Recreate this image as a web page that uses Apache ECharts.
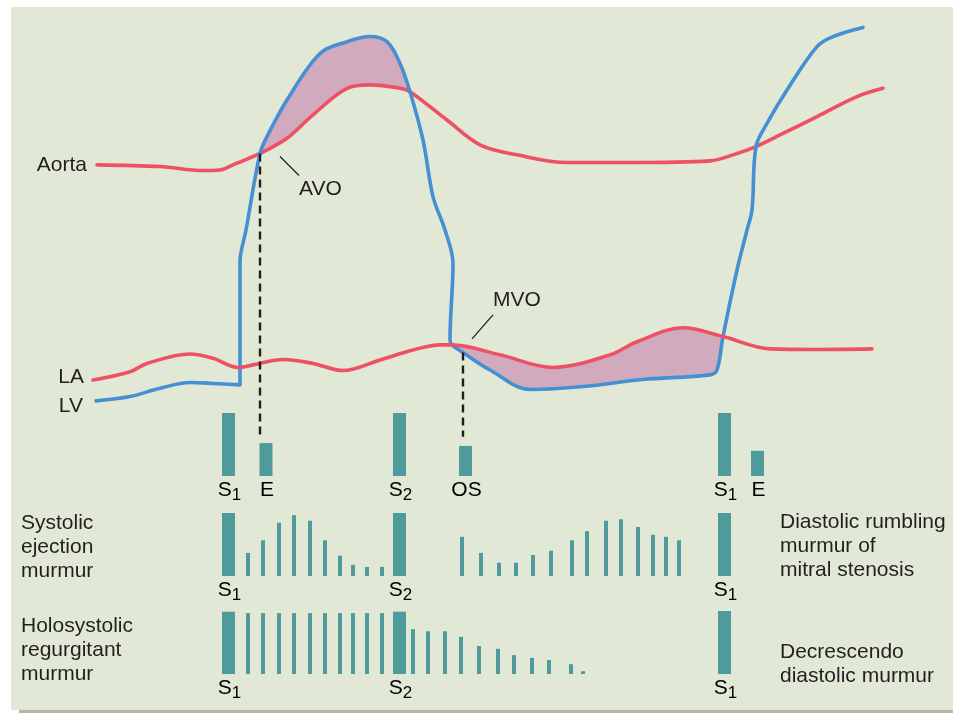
<!DOCTYPE html>
<html><head><meta charset="utf-8">
<script src="https://cdn.jsdelivr.net/npm/echarts@6/dist/echarts.min.js"></script>
<style>html,body{margin:0;padding:0;background:#fff}#c{width:953px;height:713px}</style>
</head><body><div id="c"></div>
<script>
// ---- Pressure curves: [time (ms), pressure (mmHg)] ----
const aortaPressure = [
  [12,89.3],[75,88.7],[118,87.3],[135,87.5],[148,89.3],[175,93.3],[202,98.6],[228,106.8],
  [262,116.1],[285,117.3],[315,116.1],[325,114.9],[362,105],[395,96.3],[432,92.8],[482,90.1],
  [548,90.1],[625,90.7],[648,92.8],[671,95.7],[698,100.3],[732,106.2],[772,113.2],[798,116.1]
];
const lvPressure = [
  [11,6.7],[45,8.2],[75,11.1],[105,13.1],[128,12.8],[155,12.3],[155,55.3],[161,66.5],
  [175,93.3],[182,99.2],[202,112],[235,128.3],[262,132.4],[285,134.2],[302,132.4],[315,124.8],
  [325,114.9],[338,98],[348,78.2],[360,66.5],[368,54.8],[365,28],[367,26.3],[378,23.6],
  [405,17.5],[445,10.7],[498,11.7],[558,14.2],[625,15.8],[632,17.5],[638,29.2],[652,52.5],
  [662,66.5],[667,73.5],[671,95.7],[682,103.8],[702,115.5],[732,130.7],[748,134.2],[778,137.4]
];
const laPressure = [
  [8,14],[45,16.9],[62,19.8],[105,23.1],[128,21.6],[153,18.4],[168,19.3],[198,21.2],
  [228,19.8],[258,17.3],[295,21],[328,24.5],[355,26.3],[367,26.3],[415,22.8],[468,18.4],
  [525,22.8],[552,27.4],[598,32.3],[638,29.2],[685,24.9],[732,24.7],[787,24.9]
];
// valve events [time, pressure]
const avoPoint = [175, 93.3];
const mvoPoint = [367, 26.3];
const mvoDashTime = 378;
const dashEndAmp = 56;

// ---- Heart sounds row ----
const heartSoundLabels = ['S1','E','S2','OS','S1','E'];
const heartSoundTimes  = [143.5,181,314.5,380.5,639.5,672.5];
const heartSoundAmps   = [90,47,90,43,90,36];

// ---- Systolic ejection / diastolic rumble row ----
const row2SoundLabels = ['S1','S2','S1'];
const row2SoundTimes  = [143.5,314.5,639.5];
const row2SoundAmps   = [90,90,90];
const ejectionTimes = [163,178,194,209,225,240,255,268,282,297];
const ejectionAmps  = [33,51,76,87,79,51,29,16,13,13];
const rumbleTimes = [377,396,414,431,448,466,487,502,521,536,553,568,581,594];
const rumbleAmps  = [56,33,19,19,30,36,51,64,79,81,70,59,56,51];

// ---- Holosystolic / decrescendo row ----
const row3SoundLabels = ['S1','S2','S1'];
const row3SoundTimes  = [143.5,314.5,639.5];
const row3SoundAmps   = [89,89,90];
const holoTimes = [163,178,194,209,225,240,255,268,282,297];
const holoAmps  = [87,87,87,87,87,87,87,87,87,87];
const decresTimes = [328,343,360,376,394,413,429,447,464,486,498];
const decresAmps  = [64,61,61,53,40,36,27,23,20,14,4];

const RED = '#EE5164', BLUE = '#4590D2', FILL = '#D2AABD', TEAL = '#4F9A9A', INK = '#231F20';
const FONT = '"Liberation Sans", Arial, Helvetica, sans-serif';
const SMOOTH = 0.35;

const zip = (a, b) => a.map((v, i) => [v, b[i]]);

function fmtLabel(s) {
  return s.length > 1 && /\d/.test(s[1]) ? '{m|' + s[0] + '}{sub|' + s.slice(1) + '}' : '{m|' + s + '}';
}
const richStyle = {
  m: { fontSize: 21, fontFamily: FONT, color: INK, lineHeight: 21 },
  sub: { fontSize: 17, fontFamily: FONT, color: INK, lineHeight: 12, padding: [9, 0, 0, 0] }
};

function barRenderer(width, labels) {
  return function (params, api) {
    const t = api.value(0), a = api.value(1);
    const top = api.coord([t, a]);
    const base = api.coord([t, 0]);
    const children = [{
      type: 'rect',
      shape: { x: top[0] - width / 2, y: top[1], width: width, height: base[1] - top[1] },
      style: { fill: TEAL }
    }];
    if (labels) {
      children.push({
        type: 'text', x: base[0] + 1, y: base[1] + 4,
        style: { text: fmtLabel(labels[params.dataIndex]), rich: richStyle, align: 'center', verticalAlign: 'top', fontFamily: FONT }
      });
    }
    return { type: 'group', children: children };
  };
}

function barSeries(idx, times, amps, width, labels) {
  return {
    type: 'custom', coordinateSystem: 'cartesian2d', xAxisIndex: idx, yAxisIndex: idx,
    data: zip(times, amps), renderItem: barRenderer(width, labels), clip: false, silent: true,
    encode: { x: 0, y: 1 }
  };
}

// fill polygons
function between(upper, lower, t0, t1, upperStart, lowerStart) {
  const u = [], l = [];
  for (let i = upperStart; i < upper.length; i++) { const p = upper[i]; if (p[0] > t1) break; if (p[0] >= t0) u.push(p); }
  for (let i = lowerStart; i < lower.length; i++) { const p = lower[i]; if (p[0] > t1) break; if (p[0] >= t0) l.push(p); }
  return u.concat(l.reverse());
}
const lvMvoIdx = lvPressure.findIndex(p => p[0] === 367);
const laMvoIdx = laPressure.findIndex(p => p[0] === 367);
const lvAvoIdx = lvPressure.findIndex(p => p[0] === 175);
const aoAvoIdx = aortaPressure.findIndex(p => p[0] === 175);
const systolicGap = between(lvPressure, aortaPressure, 175, 325, lvAvoIdx, aoAvoIdx);
const diastolicGap = between(laPressure, lvPressure, 367, 638, laMvoIdx, lvMvoIdx);

function polySeries(pts) {
  return {
    type: 'custom', coordinateSystem: 'cartesian2d', xAxisIndex: 0, yAxisIndex: 0,
    data: [[0, 0]], clip: false, silent: true, z: 1,
    renderItem: function (params, api) {
      return { type: 'polygon', shape: { points: pts.map(p => api.coord(p)), smooth: SMOOTH }, style: { fill: FILL } };
    }
  };
}

const gridsPx = [
  { top: 20, height: 400 },
  { top: 406, height: 70 },
  { top: 506, height: 70 },
  { top: 604, height: 70 }
];
const yMax = [140, 100, 100, 100];

const chart = echarts.init(document.getElementById('c'), null, { renderer: 'canvas' });

const lineStyle = (c) => ({ color: c, width: 3.6, cap: 'round', join: 'round' });

chart.setOption({
  backgroundColor: '#ffffff',
  animation: false,
  grid: gridsPx.map(g => ({ left: 85, width: 800, top: g.top, height: g.height })),
  xAxis: gridsPx.map((g, i) => ({ type: 'value', gridIndex: i, min: 0, max: 800, show: false })),
  yAxis: gridsPx.map((g, i) => ({ type: 'value', gridIndex: i, min: 0, max: yMax[i], show: false })),
  series: [
    polySeries(systolicGap),
    polySeries(diastolicGap),
    { type: 'line', name: 'LV', xAxisIndex: 0, yAxisIndex: 0, data: lvPressure, showSymbol: false, smooth: SMOOTH, lineStyle: lineStyle(BLUE), z: 3, silent: true },
    { type: 'line', name: 'Aorta', xAxisIndex: 0, yAxisIndex: 0, data: aortaPressure, showSymbol: false, smooth: SMOOTH, lineStyle: lineStyle(RED), z: 2, silent: true },
    { type: 'line', name: 'LA', xAxisIndex: 0, yAxisIndex: 0, data: laPressure, showSymbol: false, smooth: SMOOTH, lineStyle: lineStyle(RED), z: 4, silent: true },
    barSeries(1, heartSoundTimes, heartSoundAmps, 13, heartSoundLabels),
    barSeries(2, row2SoundTimes, row2SoundAmps, 13, row2SoundLabels),
    barSeries(2, ejectionTimes, ejectionAmps, 4),
    barSeries(2, rumbleTimes, rumbleAmps, 4),
    barSeries(3, row3SoundTimes, row3SoundAmps, 13, row3SoundLabels),
    barSeries(3, holoTimes, holoAmps, 4),
    barSeries(3, decresTimes, decresAmps, 4)
  ]
});

// ---- annotations ----
const px0 = (p) => chart.convertToPixel({ xAxisIndex: 0, yAxisIndex: 0 }, p);
const px1 = (p) => chart.convertToPixel({ xAxisIndex: 1, yAxisIndex: 1 }, p);
const lvAt = (t) => { for (let i = lvMvoIdx; i < lvPressure.length - 1; i++) { const a = lvPressure[i], b = lvPressure[i + 1]; if (t >= a[0] && t <= b[0]) return a[1] + (b[1] - a[1]) * (t - a[0]) / (b[0] - a[0]); } return 0; };

const avo = px0(avoPoint), mvo = px0(mvoPoint);
const avoEnd = px1([avoPoint[0], dashEndAmp]);
const mvoStart = px0([mvoDashTime, lvAt(mvoDashTime)]);
const mvoEnd = px1([mvoDashTime, dashEndAmp]);
const aoStart = px0(aortaPressure[0]), laStart = px0(laPressure[0]), lvStart = px0(lvPressure[0]);

const txt = (x, y, text, align) => ({
  type: 'text', x: x, y: y, z: 20,
  style: { text: text, fill: INK, font: '21px ' + FONT, align: align || 'left', verticalAlign: 'middle', lineHeight: 24 }
});
const multi = (x, yTop, text) => ({
  type: 'text', x: x, y: yTop, z: 20,
  style: { text: text, fill: INK, font: '21px ' + FONT, align: 'left', verticalAlign: 'top', lineHeight: 24 }
});
const seg = (x1, y1, x2, y2, dash) => ({
  type: 'line', z: 15, shape: { x1: x1, y1: y1, x2: x2, y2: y2 },
  style: dash ? { stroke: '#1E1E1E', lineWidth: 2.4, lineDash: [8, 5] } : { stroke: INK, lineWidth: 1.3 }
});

chart.setOption({
  graphic: [
    { type: 'rect', z: -100, shape: { x: 19, y: 708, width: 940, height: 5 }, style: { fill: '#B3B8AC' } },
    { type: 'rect', z: -99, shape: { x: 11, y: 7, width: 950, height: 703 }, style: { fill: '#E1E8D5' } },
    seg(avo[0], avo[1], avoEnd[0], avoEnd[1], true),
    seg(mvoStart[0], mvoStart[1], mvoEnd[0], mvoEnd[1], true),
    seg(avo[0] + 20, avo[1] + 3, avo[0] + 39, avo[1] + 22),
    seg(mvo[0] + 41, mvo[1] - 30, mvo[0] + 20, mvo[1] - 6),
    txt(avo[0] + 39, avo[1] + 36, 'AVO'),
    txt(mvo[0] + 41, mvo[1] - 44.5, 'MVO'),
    txt(aoStart[0] - 10, aoStart[1] + 0.5, 'Aorta', 'right'),
    txt(laStart[0] - 9, laStart[1] - 2.5, 'LA', 'right'),
    txt(lvStart[0] - 13, lvStart[1] + 5, 'LV', 'right'),
    multi(21, 511, 'Systolic\nejection\nmurmur'),
    multi(21, 614, 'Holosystolic\nregurgitant\nmurmur'),
    multi(780, 510.5, 'Diastolic rumbling\nmurmur of\nmitral stenosis'),
    multi(780, 640.5, 'Decrescendo\ndiastolic murmur')
  ]
});
</script>
</body></html>
